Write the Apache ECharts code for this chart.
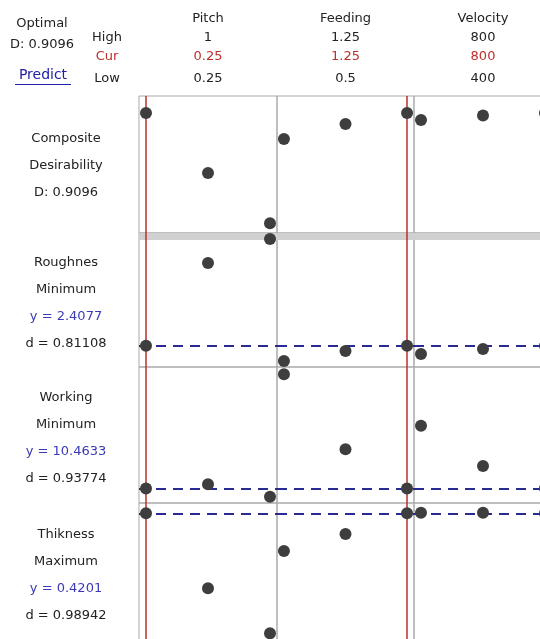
<!DOCTYPE html>
<html>
<head>
<meta charset="utf-8">
<script src="https://cdn.jsdelivr.net/npm/echarts@6/dist/echarts.min.js"></script>
<style>
  html, body { margin: 0; padding: 0; background: #fff; }
  #chart { width: 540px; height: 639px; }
</style>
</head>
<body>
<div id="chart"></div>
<script>
// Factor settings
const factors = ['Pitch', 'Feeding', 'Velocity'];
const factorHigh = [1, 1.25, 800];
const factorCur = [0.25, 1.25, 800];
const factorLow = [0.25, 0.5, 400];
const highLabels = ['1', '1.25', '800'];
const curLabels = ['0.25', '1.25', '800'];
const lowLabels = ['0.25', '0.5', '400'];

// Levels evaluated for each factor (low, centre, high)
const pitchLevels = [0.25, 0.625, 1];
const feedingLevels = [0.5, 0.875, 1.25];
const velocityLevels = [400, 600, 800];

// Predicted responses at each level, other factors held at the current setting
const compositePitch = [0.9096, 0.415, 0];
const compositeFeeding = [0.6956, 0.819, 0.9096];
const compositeVelocity = [0.8523, 0.8895, 0.9096];
const roughPitch = [2.4077, 3.65, 4.01];
const roughFeeding = [2.18, 2.33, 2.4077];
const roughVelocity = [2.285, 2.36, 2.4077];
const workPitch = [10.4633, 10.63, 10.13];
const workFeeding = [15.03, 12.03, 10.4633];
const workVelocity = [12.97, 11.36, 10.4633];
const thickPitch = [0.4201, 0.3601, 0.3241];
const thickFeeding = [0.3899, 0.4035, 0.4201];
const thickVelocity = [0.4205, 0.4205, 0.4201];

// Response rows
const rowNames = ['Composite', 'Roughnes', 'Working', 'Thikness'];
const rowGoals = ['Desirability', 'Minimum', 'Minimum', 'Maximum'];
const rowPredicted = [0.9096, 2.4077, 10.4633, 0.4201];
const rowPredLabels = ['', 'y = 2.4077', 'y = 10.4633', 'y = 0.4201'];
const rowDesirability = ['D: 0.9096', 'd = 0.81108', 'd = 0.93774', 'd = 0.98942'];
const rowMin = [-0.08, 2.09, 9.88, 0.3187];
const rowMax = [1.05, 4.1, 15.32, 0.4283];

const levels = [pitchLevels, feedingLevels, velocityLevels];
const responses = [
  [compositePitch, compositeFeeding, compositeVelocity],
  [roughPitch, roughFeeding, roughVelocity],
  [workPitch, workFeeding, workVelocity],
  [thickPitch, thickFeeding, thickVelocity]
];

// Panel layout
const rowTops = [96, 233, 367, 503];
const rowHeights = [137, 134, 136, 137];
const colLefts = [139, 277, 414];
const colWidths = [138, 137, 138];

const FONT = '"DejaVu Sans", "Open Sans", sans-serif';
const RED = '#bd2f2a';
const NAVY = '#2a2a94';

const grids = [], xAxes = [], yAxes = [], series = [];
let idx = 0;
for (let r = 0; r < 4; r++) {
  for (let c = 0; c < 3; c++) {
    grids.push({
      left: colLefts[c], top: rowTops[r], width: colWidths[c], height: rowHeights[r],
      outerBoundsMode: 'none', containLabel: false,
      show: true, borderColor: '#a9a9a9', borderWidth: 1, backgroundColor: 'transparent'
    });
    // pad each factor range so low/high sit a few pixels inside the panel
    const lo = factorLow[c], hi = factorHigh[c];
    const pad = (hi - lo) * 7 / 124;
    xAxes.push({ gridIndex: idx, type: 'value', min: lo - pad, max: hi + pad, show: false });
    yAxes.push({ gridIndex: idx, type: 'value', min: rowMin[r], max: rowMax[r], show: false });

    const refLines = [{ xAxis: factorCur[c], lineStyle: { color: RED, width: 1.5, type: 'solid' } }];
    if (r > 0) {
      refLines.push({ yAxis: rowPredicted[r], lineStyle: { color: NAVY, width: 2, type: [10, 7] } });
    }
    series.push({
      type: 'line', xAxisIndex: idx, yAxisIndex: idx, data: [], z: 3, silent: true,
      markLine: { symbol: 'none', silent: true, animation: false, label: { show: false }, data: refLines }
    });
    series.push({
      type: 'scatter', xAxisIndex: idx, yAxisIndex: idx, z: 5, clip: false, silent: true,
      symbol: 'circle', symbolSize: 12,
      itemStyle: { color: '#3e3e3e', opacity: 1 },
      data: levels[c].map((x, i) => [x, responses[r][c][i]])
    });
    idx++;
  }
}

// Text and decorations
const graphic = [];
function txt(x, y, text, opts) {
  graphic.push({
    type: 'text', x: x, y: y, z: 10,
    style: Object.assign({
      text: text, fill: '#222', font: '13px ' + FONT,
      align: 'center', verticalAlign: 'middle', textAlign: 'center', textVerticalAlign: 'middle'
    }, opts || {})
  });
}
// Band between composite desirability and responses
graphic.push({ type: 'rect', z: 1, shape: { x: 139, y: 233, width: 401, height: 7 }, style: { fill: '#d0d0d0' } });

txt(42, 24, 'Optimal');
txt(42, 45, 'D: 0.9096');
txt(43, 75, 'Predict', { fill: '#2020a8', font: '14px ' + FONT });
graphic.push({ type: 'line', z: 10, shape: { x1: 15, y1: 84.5, x2: 71, y2: 84.5 }, style: { stroke: '#2020a8', lineWidth: 1 } });
txt(107, 38, 'High');
txt(107, 57, 'Cur', { fill: RED });
txt(107, 79, 'Low');

for (let c = 0; c < 3; c++) {
  const cx = colLefts[c] + colWidths[c] / 2;
  txt(cx, 19, factors[c]);
  txt(cx, 38, highLabels[c]);
  txt(cx, 57, curLabels[c], { fill: RED });
  txt(cx, 79, lowLabels[c]);
}

for (let r = 0; r < 4; r++) {
  const cy = rowTops[r] + rowHeights[r] / 2 + (r === 0 ? 1 : 3);
  if (r === 0) {
    txt(66, cy - 27, rowNames[r]);
    txt(66, cy, rowGoals[r]);
    txt(66, cy + 27, rowDesirability[r]);
  } else {
    txt(66, cy - 40, rowNames[r]);
    txt(66, cy - 13, rowGoals[r]);
    txt(66, cy + 14, rowPredLabels[r], { fill: '#3a3ab8' });
    txt(66, cy + 41, rowDesirability[r]);
  }
}

const chart = echarts.init(document.getElementById('chart'), null, { renderer: 'canvas' });
chart.setOption({
  animation: false,
  backgroundColor: '#fff',
  grid: grids,
  xAxis: xAxes,
  yAxis: yAxes,
  series: series,
  graphic: graphic
});
</script>
</body>
</html>
